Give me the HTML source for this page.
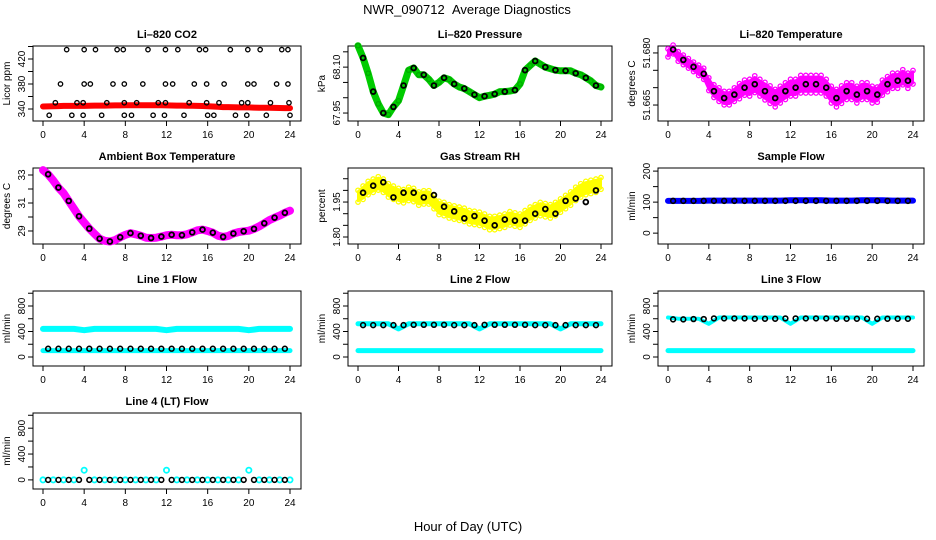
<!DOCTYPE html>
<html><head><meta charset="utf-8">
<style>
html,body{margin:0;padding:0;background:#fff;}
svg{display:block;font-family:"Liberation Sans",sans-serif;}
</style></head>
<body>
<svg id="chart" width="936" height="540" viewBox="0 0 936 540" xmlns="http://www.w3.org/2000/svg">
<text x="467" y="14" text-anchor="middle" font-size="13">NWR_090712&#160;&#160;Average Diagnostics</text>
<text x="468" y="531" text-anchor="middle" font-size="13">Hour of Day (UTC)</text>
</svg>
<script>
// ---------- data ----------
const xTicks = [0,4,8,12,16,20,24];
// colored series: values every 0.5 h (0..24)
const co2Red = [344,344.2,344.5,344.6,345,345,345,345,345,345.2,345.5,345.5,345.5,345.6,345.8,345.8,346,346,346,346,346,346,346,346,345.8,345.6,345.5,345.4,345.3,345.2,345,344.8,344.5,344,343.5,343,343,342.8,342.5,342.5,342.5,342.3,342,342,342,341.8,341.6,341.5,341.5];
const co2Hours = [2.3,4.0,5.1,7.2,7.8,10.2,11.9,13.1,15.2,15.8,18.2,19.9,21.1,23.2,23.8, 1.7,4.0,4.6,6.8,7.9,9.7,11.9,12.6,14.7,15.9,17.6,19.9,20.5,22.7,23.8, 1.2,3.3,3.9,6.2,7.9,9.1,11.2,11.9,14.2,15.9,17.1,19.3,19.9,22.1,23.9, 0.6,2.8,3.9,5.7,7.9,8.6,10.7,11.8,13.7,16.0,16.6,18.7,19.8,21.7,24.0];
const co2Values = [435,435,435,435,435,435,435,435,435,435,435,435,435,435,435, 380,380,380,380,380,380,380,380,380,380,380,380,380,380,380, 350,350,350,350,350,350,350,350,350,350,350,350,350,350,350, 330,330,330,330,330,330,330,330,330,330,330,330,330,330,330];
const pressGreen = [68.17,68.13,68.08,68.02,67.98,67.95,67.945,67.97,67.99,68.04,68.09,68.097,68.075,68.075,68.06,68.04,68.05,68.065,68.06,68.045,68.035,68.03,68.02,68.01,68.0,68.005,68.008,68.012,68.02,68.02,68.022,68.025,68.045,68.09,68.105,68.12,68.11,68.10,68.095,68.09,68.088,68.088,68.088,68.08,68.075,68.065,68.055,68.04,68.035];
const tempMag = [51.680,51.681,51.679,51.678,51.677,51.676,51.675,51.674,51.671,51.669,51.668,51.667,51.667,51.668,51.669,51.670,51.670,51.671,51.670,51.669,51.668,51.667,51.668,51.669,51.670,51.670,51.671,51.671,51.671,51.671,51.671,51.670,51.668,51.667,51.668,51.669,51.669,51.668,51.669,51.669,51.668,51.668,51.670,51.671,51.672,51.672,51.673,51.672,51.673];
const tempSpread = [0.0010,0.0011,0.0012,0.0012,0.0012,0.0012,0.0013,0.0014,0.0016,0.0016,0.0017,0.0017,0.0017,0.0017,0.0019,0.0019,0.0021,0.0021,0.0021,0.0022,0.0022,0.0022,0.0021,0.0021,0.0021,0.0021,0.0022,0.0022,0.0022,0.0022,0.0022,0.0021,0.0021,0.0022,0.0022,0.0021,0.0021,0.0021,0.0021,0.0021,0.0021,0.0019,0.0019,0.0019,0.0019,0.0019,0.0019,0.0019,0.0017];
const ambMag = [33.35,33.05,32.6,32.1,31.7,31.15,30.6,30.05,29.6,29.17,28.8,28.45,28.3,28.25,28.35,28.55,28.72,28.85,28.76,28.66,28.52,28.5,28.52,28.6,28.7,28.73,28.7,28.7,28.76,28.9,29.05,29.1,29.0,28.88,28.66,28.58,28.65,28.82,28.92,28.98,29.02,29.15,29.33,29.55,29.78,29.95,30.1,30.3,30.45];
const rhYellow = [1.975,1.99,2.01,2.02,2.03,2.02,2.0,1.99,1.98,1.975,1.985,1.98,1.965,1.97,1.97,1.95,1.925,1.92,1.91,1.905,1.90,1.895,1.885,1.882,1.878,1.87,1.86,1.86,1.865,1.87,1.88,1.875,1.87,1.885,1.90,1.91,1.92,1.915,1.91,1.92,1.935,1.95,1.965,1.985,2.0,2.01,2.015,2.02,2.03];
const rhSpread = [0.022,0.025,0.025,0.025,0.025,0.025,0.025,0.025,0.025,0.025,0.025,0.025,0.025,0.025,0.025,0.025,0.025,0.025,0.025,0.025,0.025,0.025,0.025,0.025,0.025,0.025,0.025,0.025,0.025,0.025,0.025,0.025,0.025,0.025,0.025,0.025,0.025,0.025,0.025,0.025,0.025,0.025,0.025,0.025,0.025,0.025,0.025,0.025,0.022];
// black points (hourly, at h+0.5)
const pressBlack = [68.13,68.02,67.95,67.97,68.04,68.097,68.075,68.04,68.065,68.045,68.03,68.01,68.005,68.012,68.02,68.025,68.09,68.12,68.10,68.09,68.088,68.08,68.065,68.04];
const tempBlack = [51.681,51.678,51.676,51.674,51.669,51.667,51.668,51.670,51.671,51.669,51.667,51.669,51.670,51.671,51.671,51.670,51.667,51.669,51.668,51.669,51.668,51.671,51.672,51.672];
const ambBlack = [33.05,32.1,31.15,30.05,29.17,28.45,28.25,28.55,28.85,28.66,28.5,28.6,28.73,28.7,28.9,29.1,28.88,28.58,28.82,28.98,29.15,29.55,29.95,30.3];
const rhBlack = [1.99,2.02,2.035,1.97,1.99,1.99,1.97,1.98,1.93,1.91,1.88,1.89,1.87,1.85,1.875,1.87,1.87,1.90,1.92,1.90,1.955,1.965,1.95,2.0];
// flows (hourly 0..24)
const sampleBlue = [104,104,104,104,105,105,105,105,105,105,105,105,106,106,106,106,105,105,105,106,106,106,105,105,105];
const sampleBlack = [104,104,104,104,104,104,104,104,104,104,104,104,104,104,104,104,104,104,104,104,104,104,104,104];
const line1High = [440,440,440,440,420,440,440,440,440,440,440,440,420,440,440,440,440,440,440,440,420,440,440,440,440];
const line1Low = [100,100,100,100,100,100,100,100,100,100,100,100,100,100,100,100,100,100,100,100,100,100,100,100,100];
const line1Black = [130,130,130,130,130,130,130,130,130,130,130,130,130,130,130,130,130,130,130,130,130,130,130,130];
const line2High = [520,520,520,520,440,520,520,520,520,520,520,520,440,520,520,520,520,520,520,520,440,520,520,520,520];
const line2Low = [100,100,100,100,100,100,100,100,100,100,100,100,100,100,100,100,100,100,100,100,100,100,100,100,100];
const line2Black = [500,500,500,500,500,505,505,505,505,500,500,500,505,505,505,505,505,500,500,500,500,500,500,500];
const line3High = [620,600,600,600,520,620,620,620,620,620,620,620,520,620,620,620,620,620,620,620,520,620,620,620,620];
const line3Low = [100,100,100,100,100,100,100,100,100,100,100,100,100,100,100,100,100,100,100,100,100,100,100,100,100];
const line3Black = [590,590,595,595,605,605,605,605,600,600,600,605,605,605,605,605,600,600,600,600,600,600,600,600];
const line4Cyan = [0,0,0,0,150,0,0,0,0,0,0,0,150,0,0,0,0,0,0,0,150,0,0,0,0];
const line4Black = [0,0,0,0,0,0,0,0,0,0,0,0,0,0,0,0,0,0,0,0,0,0,0,0];

// ---------- layout ----------
const NS = "http://www.w3.org/2000/svg";
const svg = document.getElementById('chart');
const cols = [[33,301],[348,612],[658,924]];
const rows = [[46,121],[168,244],[291,366],[413,489]];
function mk(tag, attrs, parent){
  const e = document.createElementNS(NS, tag);
  for (const k in attrs) e.setAttribute(k, attrs[k]);
  (parent||svg).appendChild(e); return e;
}
function panel(c, r, title, ylab, ymin, ymax, ticks, labels, labelText, name){
  const [x0,x1] = cols[c], [y0,y1] = rows[r];
  const g = mk('g', {});
  
  
  const xs = h => x0 + 10 + (x1 - x0 - 21) * h / 24;
  const ys = v => y1 - (v - ymin) / (ymax - ymin) * (y1 - y0);
  const box = mk('rect', {x:x0, y:y0, width:x1-x0, height:y1-y0, fill:'none', stroke:'#000', 'stroke-width':1}, g);
  
  
  const t = mk('text', {x:(x0+x1)/2, y:y0-8, 'text-anchor':'middle', 'font-size':11, 'font-weight':'bold'}, g);
  t.textContent = title;
  
  
  const yl = mk('text', {transform:`translate(${x0-23},${(y0+y1)/2}) rotate(-90)`, 'text-anchor':'middle', 'font-size':10}, g);
  yl.textContent = ylab;
  
  
  const xa = mk('g', {}, g);
  
  
  mk('line', {x1:xs(0), x2:xs(24), y1:y1, y2:y1, stroke:'#000'}, xa);
  xTicks.forEach(h => {
    mk('line', {x1:xs(h), x2:xs(h), y1:y1, y2:y1+5, stroke:'#000'}, xa);
    const tl = mk('text', {x:xs(h), y:y1+17, 'text-anchor':'middle', 'font-size':10}, xa);
    tl.textContent = h;
  });
  const ya = mk('g', {}, g);
  
  
  mk('line', {x1:x0, x2:x0, y1:ys(ticks[0]), y2:ys(ticks[ticks.length-1]), stroke:'#000'}, ya);
  ticks.forEach(v => mk('line', {x1:x0-5, x2:x0, y1:ys(v), y2:ys(v), stroke:'#000'}, ya));
  labels.forEach((v,i) => {
    const tl = mk('text', {transform:`translate(${x0-8},${ys(v)}) rotate(-90)`, 'text-anchor':'middle', 'font-size':10}, ya);
    tl.textContent = labelText[i];
  });
  return {g, xs, ys};
}
function pts(p, hours, vals, color, name, r, sw){
  const g = mk('g', {}, p.g);
  
  
  vals.forEach((v,i) => {
    mk('circle', {cx:p.xs(hours[i]), cy:p.ys(v), r:r||2.2, fill:'none', stroke:color, 'stroke-width':sw||1.3}, g);
  });
  return g;
}
function thick(p, hours, vals, color, name, w){
  const d = vals.map((v,i)=>(i?'L':'M')+p.xs(hours[i]).toFixed(1)+','+p.ys(v).toFixed(1)).join('');
  const e = mk('path', {d, fill:'none', stroke:color, 'stroke-width':w, 'stroke-linejoin':'round', 'stroke-linecap':'round'}, p.g);
  
  
}
function band(p, hours, vals, spread, color, name){
  const up = vals.map((v,i)=>p.xs(hours[i]).toFixed(1)+','+p.ys(v+spread[i]).toFixed(1));
  const lo = vals.map((v,i)=>p.xs(hours[i]).toFixed(1)+','+p.ys(v-spread[i]).toFixed(1)).reverse();
  const e = mk('polygon', {points:up.concat(lo).join(' '), fill:color, stroke:color, 'stroke-width':2, 'stroke-linejoin':'round'}, p.g);
  
  
  pts(p, hours, vals.map((v,i)=>v+spread[i]*1.15), color, name+'-upper-points');
  pts(p, hours, vals.map((v,i)=>v-spread[i]*1.15), color, name+'-lower-points');
}
const half = co2Red.map((_,i)=>i*0.5);
const hourly = line1High.map((_,i)=>i);
const blackH = pressBlack.map((_,i)=>i+0.5);

let p = panel(0,0,'Li\u2013820 CO2','Licor ppm',320.8,440.8,[340,360,380,400,420,440],[340,380,420],['340','380','420'],'co2');
thick(p, half, co2Red, '#f00', 'co2-red-series', 6);
pts(p, co2Hours, co2Values, '#000', 'co2-black-points');
p = panel(1,0,'Li\u2013820 Pressure','kPa',67.924,68.169,[67.95,68.0,68.05,68.10,68.15],[67.95,68.10],['67.95','68.10'],'pressure');
thick(p, half, pressGreen, '#0c0', 'pressure-green-series', 7);
pts(p, half, pressGreen, '#0a0', 'pressure-green-points');
pts(p, blackH, pressBlack, '#000', 'pressure-black-points', 2.4, 1.8);
p = panel(2,0,'Li\u2013820 Temperature','degrees C',51.6604,51.682,[51.665,51.670,51.675,51.680],[51.665,51.680],['51.665','51.680'],'li820-temp');
band(p, half, tempMag, tempSpread, '#f0f', 'li820-temp-magenta-series');
pts(p, blackH, tempBlack, '#000', 'li820-temp-black-points', 2.4, 1.8);
p = panel(0,1,'Ambient Box Temperature','degrees C',28.07,33.5,[29,30,31,32,33],[29,31,33],['29','31','33'],'ambient');
thick(p, half, ambMag, '#f0f', 'ambient-magenta-series', 8);
pts(p, blackH, ambBlack, '#000', 'ambient-black-points', 2.4, 1.8);
p = panel(1,1,'Gas Stream RH','percent',1.77,2.096,[1.80,1.85,1.90,1.95,2.00,2.05],[1.80,1.95],['1.80','1.95'],'rh');
band(p, half, rhYellow, rhSpread, '#ff0', 'rh-yellow-series');
pts(p, blackH, rhBlack, '#000', 'rh-black-points', 2.4, 1.8);
p = panel(2,1,'Sample Flow','ml/min',-35,210,[0,50,100,150,200],[0,100,200],['0','100','200'],'sample-flow');
thick(p, hourly, sampleBlue, '#00f', 'sample-flow-blue-series', 6);
pts(p, blackH, sampleBlack, '#000', 'sample-flow-black-points', 2.4, 1.6);
const fT = [0,200,400,600,800,1000], fL = [0,400,800], fS = ['0','400','800'];
p = panel(0,2,'Line 1 Flow','ml/min',-141,1035,fT,fL,fS,'line1');
thick(p, hourly, line1High, '#0ff', 'line1-high-series', 6);
thick(p, hourly, line1Low, '#0ff', 'line1-low-series', 5);
pts(p, blackH, line1Black, '#000', 'line1-black-points', 2.4, 1.6);
p = panel(1,2,'Line 2 Flow','ml/min',-141,1035,fT,fL,fS,'line2');
thick(p, hourly, line2High, '#0ff', 'line2-high-series', 5);
thick(p, hourly, line2Low, '#0ff', 'line2-low-series', 5);
pts(p, blackH, line2Black, '#000', 'line2-black-points', 2.4, 1.6);
p = panel(2,2,'Line 3 Flow','ml/min',-141,1035,fT,fL,fS,'line3');
thick(p, hourly, line3High, '#0ff', 'line3-high-series', 4);
thick(p, hourly, line3Low, '#0ff', 'line3-low-series', 5);
pts(p, blackH, line3Black, '#000', 'line3-black-points', 2.4, 1.6);
p = panel(0,3,'Line 4 (LT) Flow','ml/min',-141,1035,fT,fL,fS,'line4');
pts(p, hourly, line4Cyan, '#0ff', 'line4-cyan-points', 2.6, 1.8);
pts(p, blackH, line4Black, '#000', 'line4-black-points', 2.4, 1.6);
</script>
</body></html>
